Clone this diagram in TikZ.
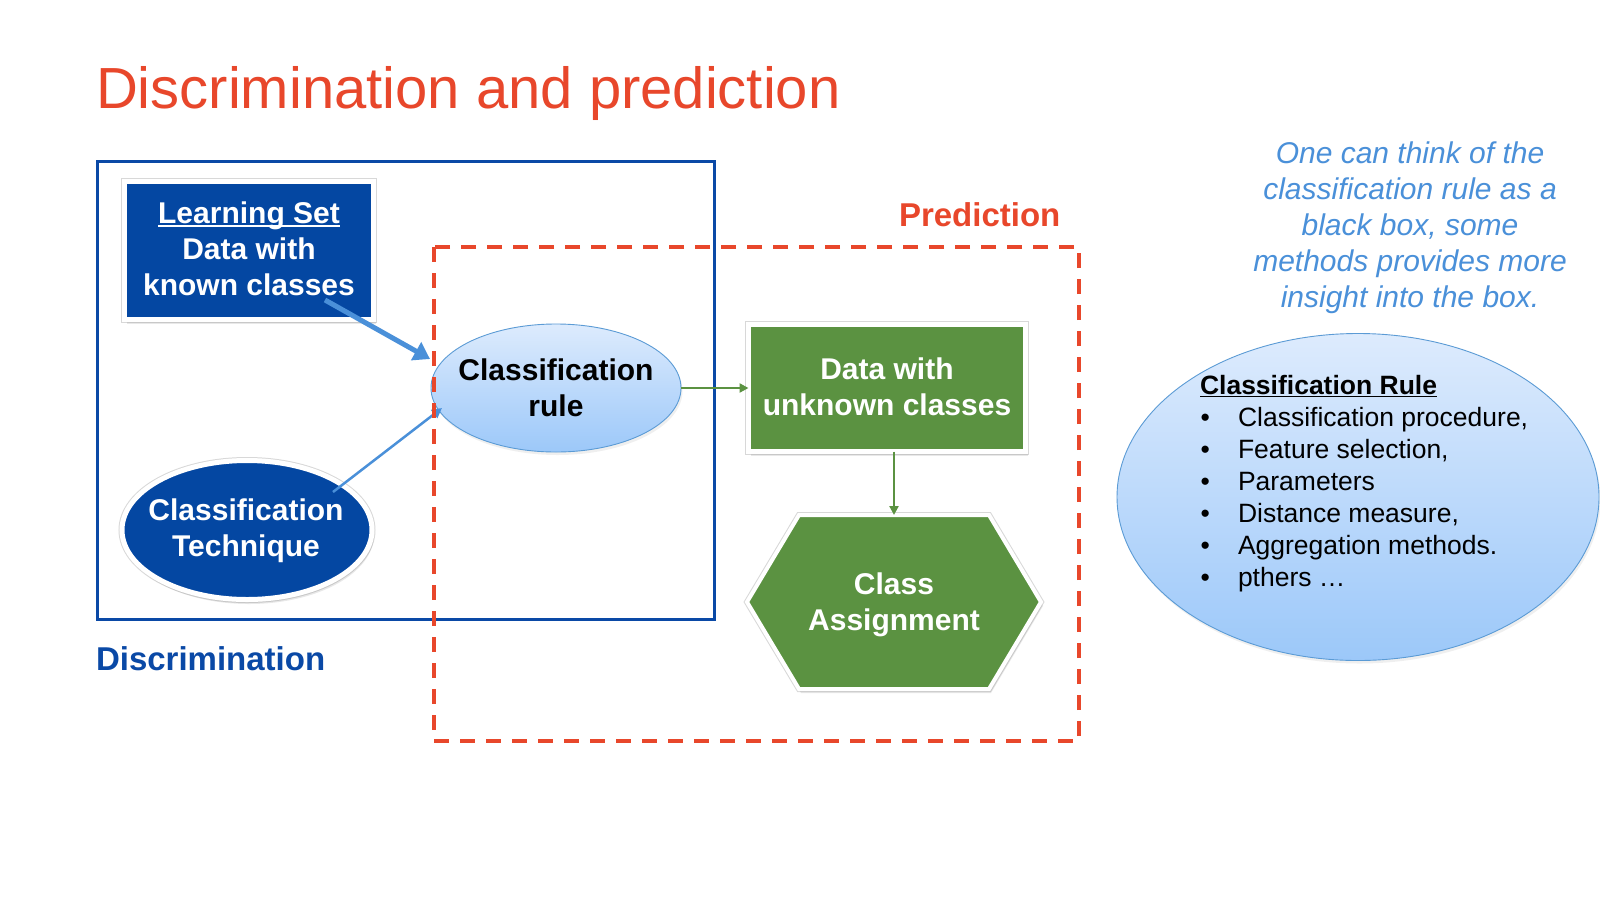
\documentclass[tikz,border=0pt]{standalone}
\usepackage{fontspec}
\setmainfont{Liberation Sans}
\usetikzlibrary{arrows.meta,shapes.geometric,shadows}

\definecolor{titlered}{HTML}{E8472B}
\definecolor{darkblue}{HTML}{0447A2}
\definecolor{frameblue}{HTML}{0A49A6}
\definecolor{skyblue}{HTML}{4A90D9}
\definecolor{leafgreen}{HTML}{5B9241}
\definecolor{paleblue}{HTML}{DDEBFD}
\definecolor{midblue}{HTML}{9CC8F9}
\definecolor{rimblue}{HTML}{5B9BD5}
\definecolor{halo}{HTML}{D8D8D8}

% centred block of lines whose baseline is the first line
\newcommand\linesc[1]{\vtop{\halign{\hfil##\hfil\cr#1\crcr}}}
% underline drawn as a rule in the current colour
\newcommand\uln[1]{\setbox0=\hbox{#1}\rlap{\rule[-0.13em]{\wd0}{0.065em}}\box0}
% bullet column of the rule list
\newcommand\bul{\hbox to 38pt{\hskip0.5pt\textbullet\hfil}}

\begin{document}
\begin{tikzpicture}[x=1pt,y=-1pt,
  every node/.style={inner sep=0pt,outer sep=0pt},
  whiteedge/.style={draw=white,line width=5pt,
    preaction={draw=halo,line width=7pt},
    drop shadow={shadow xshift=2pt,shadow yshift=-4.5pt,opacity=0.18}},
  softshadow/.style={drop shadow={shadow xshift=1.5pt,shadow yshift=-3pt,opacity=0.12}},
  boldtext/.style={font=\fontsize{30}{36}\selectfont\bfseries,anchor=base},
  bluearrow/.style={skyblue,line width=5pt,-{Triangle[length=16pt,width=20pt]}},
  thinblue/.style={skyblue,line width=2.5pt,-{Triangle[length=10pt,width=10pt]}},
  greenarrow/.style={leafgreen,line width=2.5pt,-{Triangle[length=9pt,width=9pt]}},
  bubble/.style={ellipse,top color=paleblue,bottom color=midblue,draw=rimblue,line width=0.9pt,softshadow}
]
\useasboundingbox (0,0) rectangle (1600,900);
\fill[white] (0,0) rectangle (1600,900);

% title
\node[anchor=base west,text=titlered,font=\fontsize{58}{69}\selectfont] (title) at (96,108) {Discrimination and prediction};

% discrimination frame
\draw[frameblue,line width=3pt] (97,161) rectangle (714,619);
\node[anchor=base west,text=frameblue,font=\fontsize{33}{40}\selectfont\bfseries] (discLabel) at (96,670) {Discrimination};

% learning set
\node[whiteedge,fill=darkblue,minimum width=249pt,minimum height=138pt] (ls) at (249,250.5) {};
\node[boldtext,text=white] (lsText) at (249,223.5) {\linesc{\uln{Learning Set}\cr Data with\cr known classes}};

% classification technique
\node[ellipse,whiteedge,fill=darkblue,minimum width=250pt,minimum height=139pt] (tech) at (247,530) {};
\node[boldtext,text=white] (techText) at (246,520) {\linesc{Classification\cr Technique}};

% classification rule
\node[bubble,minimum width=250pt,minimum height=128pt] (rule) at (556,388) {};
\node[boldtext,text=black] (ruleText) at (556,380) {\linesc{Classification\cr rule}};

% data with unknown classes
\node[whiteedge,fill=leafgreen,minimum width=277pt,minimum height=127pt] (data) at (887,388) {};
\node[boldtext,text=white] (dataText) at (887,379) {\linesc{Data with\cr unknown classes}};

% class assignment hexagon
\filldraw[fill=leafgreen,draw=white,line width=4pt,
  preaction={draw=halo,line width=6pt},
  drop shadow={shadow xshift=2pt,shadow yshift=-4pt,opacity=0.18}]
  (799,515) -- (989,515) -- (1041,602) -- (989,689) -- (799,689) -- (747,602) -- cycle;
\node[minimum width=190pt,minimum height=174pt] (assign) at (894,602) {};
\node[boldtext,text=white] (assignText) at (894,594) {\linesc{Class\cr Assignment}};

% connectors
\draw[bluearrow] ([shift={(76,49.5)}]ls.center) -- ([shift={(-1,-29)}]rule.west);
\draw[thinblue] ([shift={(86,-38)}]tech.center) -- ([shift={(11,20)}]rule.west);
\draw[greenarrow] (rule.east) -- (data.west);
\draw[greenarrow] (assign.north |- data.south) -- (assign.north);

% prediction frame
\draw[titlered,line width=3.5pt,dash pattern=on 15pt off 11pt] (434,247) rectangle (1079,741);
\node[anchor=base west,text=titlered,font=\fontsize{33}{40}\selectfont\bfseries] (predLabel) at (899,226) {Prediction};

% note on the right
\node[anchor=base,text=skyblue,font=\fontsize{30}{36}\selectfont\itshape] (note) at (1410,163)
  {\linesc{One can think of the\cr classification rule as a\cr black box, some\cr methods provides more\cr insight into the box.}};

% classification rule contents
\node[bubble,minimum width=482pt,minimum height=327pt] (ruleBubble) at (1358,497) {};
\node[anchor=base west,text=black,font=\fontsize{26.5}{32}\selectfont] (ruleList) at (1200,394)
  {\vtop{\hbox{\bfseries\uln{Classification Rule}}
   \hbox{\bul Classification procedure,}
   \hbox{\bul Feature selection,}
   \hbox{\bul Parameters}
   \hbox{\bul Distance measure,}
   \hbox{\bul Aggregation methods.}
   \hbox{\bul pthers …}}};
\end{tikzpicture}
\end{document}
